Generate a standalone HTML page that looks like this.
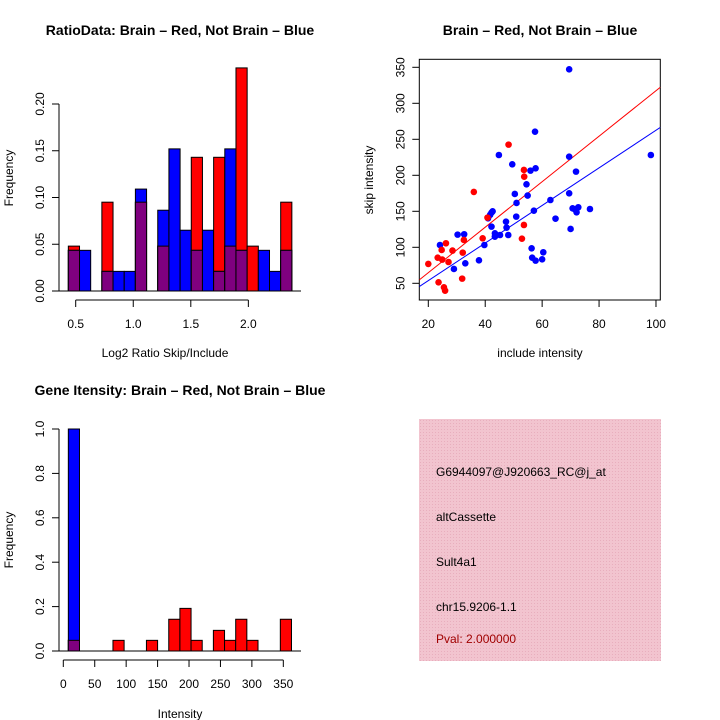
<!DOCTYPE html>
<html><head><meta charset="utf-8"><style>
html,body{margin:0;padding:0;background:#fff;}
svg{display:block;font-family:"Liberation Sans",Arial,sans-serif;}
</style></head><body>
<svg id="s" width="720" height="720" viewBox="0 0 720 720">
<rect width="720" height="720" fill="#fff"/>
<defs><pattern id="hatch" width="3" height="3" patternUnits="userSpaceOnUse"><rect width="3" height="3" fill="#f2c4cf"/><rect width="1" height="1" fill="#e8aebd"/></pattern></defs>
<g id="p1">
<text x="180" y="35" text-anchor="middle" font-size="14" font-weight="bold">RatioData: Brain – Red, Not Brain – Blue</text>
<text x="165" y="357" text-anchor="middle" font-size="12">Log2 Ratio Skip/Include</text>
<text transform="translate(13,178) rotate(-90)" text-anchor="middle" font-size="12">Frequency</text>
</g>
<g id="p2">
<text x="540" y="35" text-anchor="middle" font-size="14" font-weight="bold">Brain – Red, Not Brain – Blue</text>
<text x="540" y="357" text-anchor="middle" font-size="12">include intensity</text>
<text transform="translate(373,180) rotate(-90)" text-anchor="middle" font-size="12">skip intensity</text>
</g>
<g id="p3">
<text x="180" y="395" text-anchor="middle" font-size="14" font-weight="bold">Gene Itensity: Brain – Red, Not Brain – Blue</text>
<text x="180" y="718" text-anchor="middle" font-size="12">Intensity</text>
<text transform="translate(13,540) rotate(-90)" text-anchor="middle" font-size="12">Frequency</text>
</g>
<g font-size="12">
<rect x="419" y="419" width="242" height="242" fill="url(#hatch)"/>
<text x="436" y="476">G6944097@J920663_RC@j_at</text>
<text x="436" y="521">altCassette</text>
<text x="436" y="566">Sult4a1</text>
<text x="436" y="611">chr15.9206-1.1</text>
<text x="436" y="643" fill="#a00000">Pval: 2.000000</text>
</g>
</svg>
<script>
// Ratio histogram data
const ratioRed  = [0.048,0,0,0.095,0,0,0.095,0,0.048,0,0,0.143,0,0.143,0.048,0.2386,0.048,0,0,0.095];
const ratioBlue = [0.0435,0.0435,0,0.021,0.021,0.021,0.109,0,0.0864,0.152,0.065,0.0435,0.065,0.021,0.152,0.0435,0,0.0435,0.021,0.0435];
const ratioBinStart = 0.436, ratioBinWidth = 0.0971;
const ratioXTicks = [0.5,1.0,1.5,2.0];
const ratioYTicks = [0,0.05,0.10,0.15,0.20];
const ratioYLabels = ["0.00","0.05","0.10","0.15","0.20"];
// Scatter data
const redX = [20,23.3,23.6,24.7,24.9,25.5,25.9,26.2,27.1,28.5,32.1,31.9,32.5,36.0,39.1,40.8,48.2,52.9,53.6,53.6,53.7];
const redY = [76.9,85.6,51.4,96.3,82.9,44.4,39.8,105.6,79.6,95.4,92.6,56.5,110.2,176.9,112.5,141.2,242.6,112.0,131.0,207.4,198.1];
const blueX = [24.1,29.0,30.3,32.6,33.0,37.8,39.7,41.0,41.7,42.2,42.6,42.2,43.4,43.4,44.8,45.2,47.3,47.5,48.1,49.5,50.4,50.9,51.0,54.5,54.9,55.9,56.3,56.5,57.1,57.7,57.5,57.7,60.0,60.4,62.9,64.7,69.5,69.5,69.5,70.0,71.9,70.7,71.5,72.1,72.7,76.8,98.2];
const blueY = [103.2,69.9,117.6,118.1,77.8,81.9,103.2,140.3,144.9,148.1,150.0,128.7,119.4,114.8,228.2,117.1,135.6,127.3,117.1,215.3,174.1,142.6,161.6,187.5,171.8,206.5,98.6,85.6,150.9,209.7,260.6,81.5,83.3,93.1,165.7,139.8,347.2,225.9,175.0,125.5,205.1,154.2,152.8,148.6,155.6,153.2,228.2];
const redFit = [1.5,3.16];
const blueFit = [1.5,2.61];
const scatXTicks = [20,40,60,80,100];
const scatYTicks = [50,100,150,200,250,300,350];
// Intensity histogram data
const intRed  = [0.048,0,0,0,0.048,0,0,0.048,0,0.143,0.192,0.048,0,0.093,0.048,0.143,0.048,0,0,0.143];
const intBlue = [1.0,0,0,0,0,0,0,0,0,0,0,0,0,0,0,0,0,0,0,0];
const intBinStart = 8, intBinWidth = 17.75;
const intXTicks = [0,50,100,150,200,250,300,350];
const intYTicks = [0,0.2,0.4,0.6,0.8,1.0];
const intYLabels = ["0.0","0.2","0.4","0.6","0.8","1.0"];

const NS="http://www.w3.org/2000/svg";
function mk(parent,tag,attrs){const e=document.createElementNS(NS,tag);for(const k in attrs)e.setAttribute(k,attrs[k]);parent.appendChild(e);return e;}

function histogram(g,red,blue,binStart,binW,sx,sy,x0,x1,y0,xTicks,xLabels,yTicks,yLabels,xTickY,prefix){
  for(let i=0;i<red.length;i++){
    const a=sx(binStart+i*binW), b=sx(binStart+(i+1)*binW);
    const r=red[i], bl=blue[i];
    if(r>0){const e=mk(g,'rect',{x:a,y:sy(r),width:b-a,height:sy(0)-sy(r),fill:'#ff0000',stroke:'#000','stroke-width':1});
      
      }
    if(bl>0){const e=mk(g,'rect',{x:a,y:sy(bl),width:b-a,height:sy(0)-sy(bl),fill:'#0000ff',stroke:'#000','stroke-width':1});
      
      }
    const m=Math.min(r,bl);
    if(m>0){const e=mk(g,'rect',{x:a,y:sy(m),width:b-a,height:sy(0)-sy(m),fill:'#7f007f',stroke:'#000','stroke-width':1});
      
      }
  }
  const base=mk(g,'line',{x1:x0,x2:x1,y1:sy(0),y2:sy(0),stroke:'#000'});
  
  
  const xa=mk(g,'line',{x1:sx(xTicks[0]),x2:sx(xTicks[xTicks.length-1]),y1:xTickY,y2:xTickY,stroke:'#000'});
  
  
  xTicks.forEach((v,i)=>{mk(g,'line',{x1:sx(v),x2:sx(v),y1:xTickY,y2:xTickY+7,stroke:'#000'});
    const t=mk(g,'text',{x:sx(v),y:xTickY+28,'text-anchor':'middle','font-size':12});t.textContent=xLabels[i];
    
    });
  const ya=mk(g,'line',{x1:y0,x2:y0,y1:sy(yTicks[0]),y2:sy(yTicks[yTicks.length-1]),stroke:'#000'});
  
  
  yTicks.forEach((v,i)=>{mk(g,'line',{x1:y0-7,x2:y0,y1:sy(v),y2:sy(v),stroke:'#000'});
    const t=mk(g,'text',{transform:`translate(${y0-15},${sy(v)}) rotate(-90)`,'text-anchor':'middle','font-size':12});t.textContent=yLabels[i];
    
    });
}
// Panel 1
(function(){
  const g=document.getElementById('p1');
  const sx=v=>75.7+(v-0.5)*115.1, sy=v=>291-v*935;
  histogram(g,ratioRed,ratioBlue,ratioBinStart,ratioBinWidth,sx,sy,59,301,59,ratioXTicks,["0.5","1.0","1.5","2.0"],ratioYTicks,ratioYLabels,300,'ratio');
})();
// Panel 3
(function(){
  const g=document.getElementById('p3');
  const sx=v=>63.3+v*0.6286, sy=v=>651-v*222;
  histogram(g,intRed,intBlue,intBinStart,intBinWidth,sx,sy,59,301,59,intXTicks,intXTicks.map(String),intYTicks,intYLabels,660,'intensity');
})();
// Panel 2
(function(){
  const g=document.getElementById('p2');
  const sx=v=>428.3+(v-20)*2.846, sy=v=>283.3-(v-50)*0.72;
  const L=419.3,R=660.3,T=59.3,B=300;
  const box=mk(g,'rect',{x:L,y:T,width:R-L,height:B-T,fill:'none',stroke:'#000'});
  
  
  scatXTicks.forEach(v=>{mk(g,'line',{x1:sx(v),x2:sx(v),y1:B,y2:B+7,stroke:'#000'});
    const t=mk(g,'text',{x:sx(v),y:B+28,'text-anchor':'middle','font-size':12});t.textContent=v;
    
    });
  scatYTicks.forEach(v=>{mk(g,'line',{x1:L-7,x2:L,y1:sy(v),y2:sy(v),stroke:'#000'});
    const t=mk(g,'text',{transform:`translate(${L-15},${sy(v)}) rotate(-90)`,'text-anchor':'middle','font-size':12});t.textContent=v;
    
    });
  const clip=mk(g,'clipPath',{id:'sc'});mk(clip,'rect',{x:L,y:T,width:R-L,height:B-T});
  const xmin=20-(428.3-L)/2.846, xmax=20+(R-428.3)/2.846;
  [[blueFit,'#0000ff','blue-fit-line'],[redFit,'#ff0000','red-fit-line']].forEach(([f,c,n])=>{
    const l=mk(g,'line',{x1:sx(xmin),y1:sy(f[0]+f[1]*xmin),x2:sx(xmax),y2:sy(f[0]+f[1]*xmax),stroke:c,'stroke-width':1,'clip-path':'url(#sc)'});
    
    });
  blueX.forEach((x,i)=>{const c=mk(g,'circle',{cx:sx(x),cy:sy(blueY[i]),r:3.3,fill:'#0000ff'});
    
    });
  redX.forEach((x,i)=>{const c=mk(g,'circle',{cx:sx(x),cy:sy(redY[i]),r:3.3,fill:'#ff0000'});
    
    });
})();
</script>
</body></html>
